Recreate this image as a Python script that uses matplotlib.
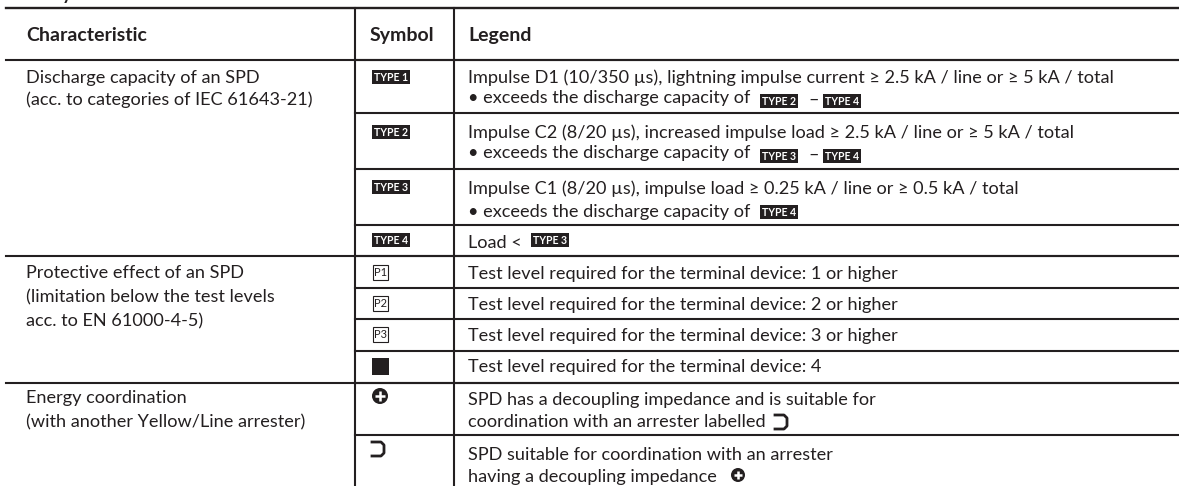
#!python3

import matplotlib
matplotlib.use("Agg")
import matplotlib.pyplot as plt
from matplotlib.patches import Rectangle, Circle

W, H = 1179, 486

characteristics = [["Discharge capacity of an SPD", "(acc. to categories of IEC 61643-21)"],
                   ["Protective effect of an SPD", "(limitation below the test levels", "acc. to EN 61000-4-5)"],
                   ["Energy coordination", "(with another Yellow/Line arrester)"]]
symbols = ["TYPE 1", "TYPE 2", "TYPE 3", "TYPE 4", "P1", "P2", "P3", "P4", "plus", "bracket"]
line1 = ["Impulse D1 (10/350 µs), lightning impulse current ≥ 2.5 kA / line or ≥ 5 kA / total",
         "Impulse C2 (8/20 µs), increased impulse load ≥ 2.5 kA / line or ≥ 5 kA / total",
         "Impulse C1 (8/20 µs), impulse load ≥ 0.25 kA / line or ≥ 0.5 kA / total",
         "Load <",
         "Test level required for the terminal device: 1 or higher",
         "Test level required for the terminal device: 2 or higher",
         "Test level required for the terminal device: 3 or higher",
         "Test level required for the terminal device: 4",
         "SPD has a decoupling impedance and is suitable for",
         "SPD suitable for coordination with an arrester"]
line2 = ["• exceeds the discharge capacity of", "• exceeds the discharge capacity of",
         "• exceeds the discharge capacity of", "", "", "", "", "",
         "coordination with an arrester labelled", "having a decoupling impedance"]

row_y = [60, 113, 169, 225, 256, 288, 319, 351, 383, 435]
group_y = [60, 256, 383]
# baselines below each rule (the rows are not quite regular)
group_dy = [23, 22, 20]
group_step = [22, 24, 24]
line1_dy = [23, 25, 25, 23, 23, 22, 22, 21, 22, 25]
line2_dy = [43, 45, 48, 0, 0, 0, 0, 0, 44, 47]
sym_dy = [10, 12, 11, 8, 9, 8, 8, 7, 5, 6]
X0, X1, X2 = 6, 355, 454
INK = "#231f20"
FS = 13.1

plt.rcParams['font.family'] = ['Lato', 'DejaVu Sans']

fig = plt.figure(figsize=(W / 100, H / 100), dpi=100)
ax = fig.add_axes([0, 0, 1, 1])
ax.set_xlim(0, W)
ax.set_ylim(H, 0)
ax.axis("off")


def type_box(x, y, label):
    ax.add_patch(Rectangle((x, y), 38, 14, fc=INK, ec="none"))
    ax.text(x + 19, y + 7.3, label, color="white", fontsize=7.6, fontweight="bold",
            ha="center", va="center")


def plus(x, y, r):
    ax.add_patch(Circle((x, y), r, fc=INK, ec="none"))
    ax.plot([x - r * 0.6, x + r * 0.6], [y, y], color="white", lw=1.8, solid_capstyle="butt")
    ax.plot([x, x], [y - r * 0.6, y + r * 0.6], color="white", lw=1.8, solid_capstyle="butt")


def bracket(x, y):
    ax.plot([x, x + 9, x + 12, x + 12, x + 9, x],
            [y + 1, y + 1, y + 4, y + 12, y + 15, y + 15],
            color=INK, lw=2.0, solid_joinstyle="round")


def symbol(name, y):
    if name.startswith("TYPE"):
        type_box(372, y, name)
    elif name == "P4":
        ax.add_patch(Rectangle((372, y), 17, 17, fc=INK, ec="none"))
    elif name.startswith("P"):
        ax.add_patch(Rectangle((372.5, y), 15.5, 15, fc="white", ec=INK, lw=0.8))
        ax.text(380.2, y + 7.8, name, color=INK, fontsize=8, ha="center", va="center")
    elif name == "plus":
        plus(380, y + 8, 8)
    else:
        bracket(372, y)


# header
ax.text(X0 + 20, 41, "Characteristic", fontsize=14, fontweight="bold", color=INK)
ax.text(X1 + 15, 41, "Symbol", fontsize=14, fontweight="bold", color=INK)
ax.text(X2 + 14, 41, "Legend", fontsize=14, fontweight="bold", color=INK)
# the caption above the table is cut by the top edge
ax.text(X0 + 20, 0, "Analysis of the characteristics of SPD modules", fontsize=13, fontweight="bold",
        color=INK)

# rules
ax.plot([X0, W], [8, 8], color=INK, lw=1.7)
ax.plot([X1, X1], [8, H], color=INK, lw=1.5)
ax.plot([X2, X2], [8, H], color=INK, lw=1.5)
for y in row_y:
    ax.plot([X1, W], [y, y], color=INK, lw=1.5)
for y in group_y:
    ax.plot([X0, W], [y, y], color=INK, lw=1.5)

for g, lines in enumerate(characteristics):
    for k, txt in enumerate(lines):
        ax.text(X0 + 20, group_y[g] + group_dy[g] + k * group_step[g], txt, fontsize=FS, color=INK)

for i, name in enumerate(symbols):
    y = row_y[i]
    symbol(name, y + sym_dy[i])
    ax.text(X2 + 14, y + line1_dy[i], line1[i], fontsize=FS, color=INK)
    if line2[i]:
        ax.text(X2 + 14, y + line2_dy[i], line2[i], fontsize=FS, color=INK)

# symbols inside the legend text
type_box(760, 94, "TYPE 2")
ax.text(813.5, 100, "–", fontsize=FS, color=INK, va="center", ha="center")
type_box(823, 94, "TYPE 4")
type_box(760, 149, "TYPE 3")
ax.text(813.5, 155, "–", fontsize=FS, color=INK, va="center", ha="center")
type_box(823, 149, "TYPE 4")
type_box(760, 205, "TYPE 4")
type_box(531, 233, "TYPE 3")
bracket(775, 414)
plus(738, 475, 7)

fig.savefig("out.png", dpi=100)
